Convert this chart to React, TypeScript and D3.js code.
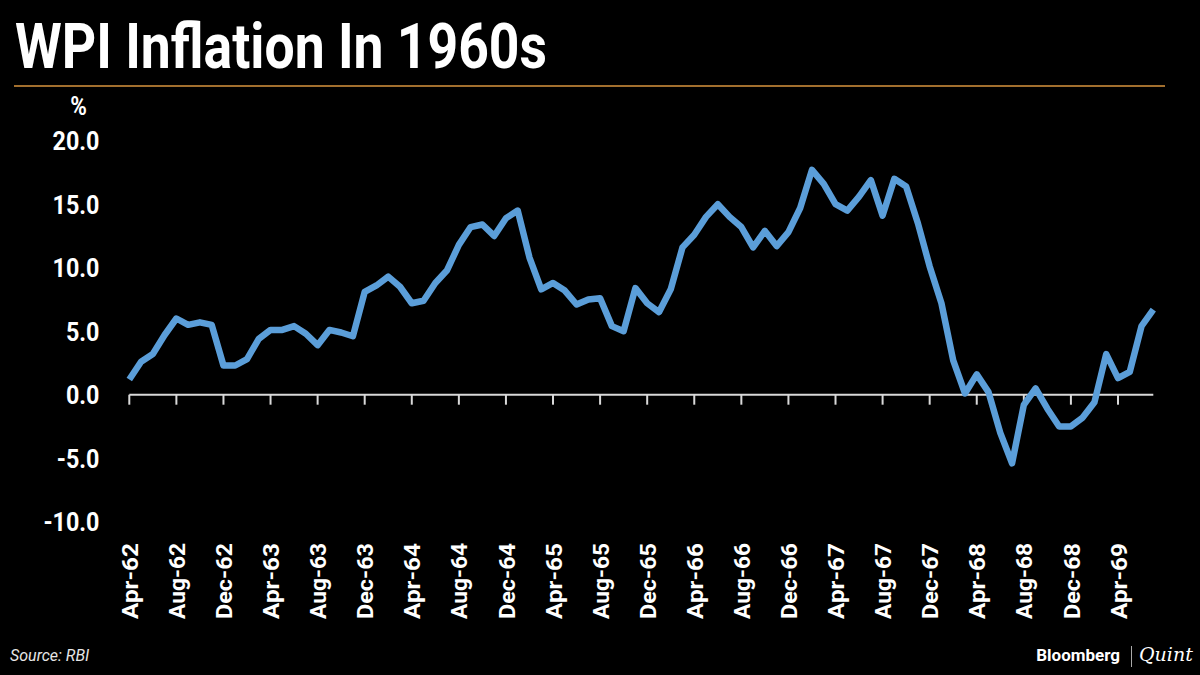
import * as React from "react";
import * as d3 from "d3";

// monthly WPI inflation, Apr-62 .. Jul-69 (%)
const startMonth = new Date(1962, 3, 1);
const endMonth = new Date(1969, 7, 1);
const months = d3.timeMonth.range(startMonth, endMonth).map(d3.timeFormat("%b-%y"));

const inflation = [
  1.2, 2.6, 3.2, 4.7, 6.0, 5.5, 5.7, 5.5, 2.3, 2.3, 2.8, 4.4,
  5.1, 5.1, 5.4, 4.8, 3.9, 5.1, 4.9, 4.6, 8.1, 8.6, 9.3, 8.5,
  7.2, 7.4, 8.8, 9.8, 11.8, 13.2, 13.4, 12.5, 13.9, 14.5, 10.8, 8.3,
  8.8, 8.2, 7.1, 7.5, 7.6, 5.4, 5.0, 8.4, 7.2, 6.5, 8.3, 11.6,
  12.6, 14.0, 15.0, 14.0, 13.2, 11.6, 12.9, 11.7, 12.8, 14.7, 17.7, 16.6,
  15.0, 14.5, 15.6, 16.9, 14.1, 17.0, 16.4, 13.5, 10.1, 7.2, 2.7, 0.1,
  1.6, 0.2, -3.0, -5.4, -0.8, 0.5, -1.1, -2.5, -2.5, -1.8, -0.6, 3.2,
  1.3, 1.8, 5.4, 6.7,
];

const yTicks = [-10, -5, 0, 5, 10, 15, 20];
const xTickLabels = months.filter((d, i) => i % 4 === 0);

const WIDTH = 1200;
const HEIGHT = 675;

const WpiChart = () => {
  const svgRef = React.useRef<SVGSVGElement>(null);

  React.useEffect(() => {
    const svg = d3.select(svgRef.current);
    svg.selectAll("*").remove();

    svg.append("rect").attr("width", WIDTH).attr("height", HEIGHT).attr("fill", "#000");

    // title + rule
    svg
      .append("text")
      .attr("x", 15)
      .attr("y", 68)
      .attr("font-family", "Roboto, sans-serif")
      .attr("font-weight", 700)
      .attr("font-size", 63)
      .attr("fill", "#fff")
      .attr("textLength", 532)
      .attr("lengthAdjust", "spacingAndGlyphs")
      .text("WPI Inflation In 1960s");

    svg
      .append("line")
      .attr("x1", 14)
      .attr("x2", 1165)
      .attr("y1", 86)
      .attr("y2", 86)
      .attr("stroke", "#d9953e")
      .attr("stroke-width", 1.5);

    const x = d3.scalePoint<string>().domain(months).range([129.3, 1153.3]);
    const y = d3.scaleLinear().domain([-10, 20]).range([521.7, 140.7]);

    // y labels (slightly condensed)
    svg
      .append("text")
      .attr("transform", "translate(78.5 115) scale(0.9 1)")
      .attr("text-anchor", "middle")
      .attr("font-family", "Roboto, sans-serif")
      .attr("font-weight", 700)
      .attr("font-size", 25)
      .attr("fill", "#fff")
      .text("%");

    svg
      .append("g")
      .selectAll("text")
      .data(yTicks)
      .enter()
      .append("text")
      .attr("transform", (d) => `translate(99.5 ${y(d)}) scale(0.88 1)`)
      .attr("dy", "0.36em")
      .attr("text-anchor", "end")
      .attr("font-family", "Roboto, sans-serif")
      .attr("font-weight", 700)
      .attr("font-size", 26.5)
      .attr("fill", "#fff")
      .text((d) => d.toFixed(1));

    // zero axis with ticks
    const axis = svg.append("g");
    axis
      .append("line")
      .attr("x1", x.range()[0])
      .attr("x2", x.range()[1])
      .attr("y1", y(0))
      .attr("y2", y(0))
      .attr("stroke", "#d9d9d9")
      .attr("stroke-width", 2);

    axis
      .selectAll(".tick")
      .data(xTickLabels)
      .enter()
      .append("line")
      .attr("class", "tick")
      .attr("x1", (d) => x(d))
      .attr("x2", (d) => x(d))
      .attr("y1", y(0))
      .attr("y2", y(0) + 10)
      .attr("stroke", "#d9d9d9")
      .attr("stroke-width", 2);

    svg
      .append("g")
      .selectAll("text")
      .data(xTickLabels)
      .enter()
      .append("text")
      .attr("transform", (d) => `translate(${x(d)} 543) rotate(-90)`)
      .attr("dy", "0.4em")
      .attr("text-anchor", "end")
      .attr("font-family", "Roboto, sans-serif")
      .attr("font-weight", 700)
      .attr("font-size", 21.5)
      .attr("fill", "#fff")
      .attr("textLength", 76)
      .attr("lengthAdjust", "spacingAndGlyphs")
      .text((d) => d);

    // series
    const line = d3
      .line<number>()
      .x((d, i) => x(months[i]) as number)
      .y((d) => y(d));

    svg
      .append("path")
      .datum(inflation)
      .attr("d", line)
      .attr("fill", "none")
      .attr("stroke", "#5b9ed9")
      .attr("stroke-width", 6.5)
      .attr("stroke-linejoin", "round");

    // footer
    svg
      .append("text")
      .attr("x", 10)
      .attr("y", 661)
      .attr("font-family", "Roboto, sans-serif")
      .attr("font-style", "italic")
      .attr("font-size", 16)
      .attr("fill", "#e6e6e6")
      .text("Source: RBI");

    svg
      .append("text")
      .attr("x", 1120)
      .attr("y", 661)
      .attr("text-anchor", "end")
      .attr("font-family", "Roboto, sans-serif")
      .attr("font-weight", 700)
      .attr("font-size", 17)
      .attr("fill", "#fff")
      .text("Bloomberg");

    svg
      .append("line")
      .attr("x1", 1131.5)
      .attr("x2", 1131.5)
      .attr("y1", 646)
      .attr("y2", 667)
      .attr("stroke", "#aaa")
      .attr("stroke-width", 1);

    svg
      .append("text")
      .attr("x", 1139)
      .attr("y", 661)
      .attr("font-family", "'DejaVu Serif', serif")
      .attr("font-style", "italic")
      .attr("font-size", 19)
      .attr("fill", "#fff")
      .text("Quint");
  }, []);

  return (
    <svg
      ref={svgRef}
      width={WIDTH}
      height={HEIGHT}
      style={{ position: "absolute", left: 0, top: 0, display: "block" }}
    />
  );
};

export default function App() {
  return <WpiChart />;
}
